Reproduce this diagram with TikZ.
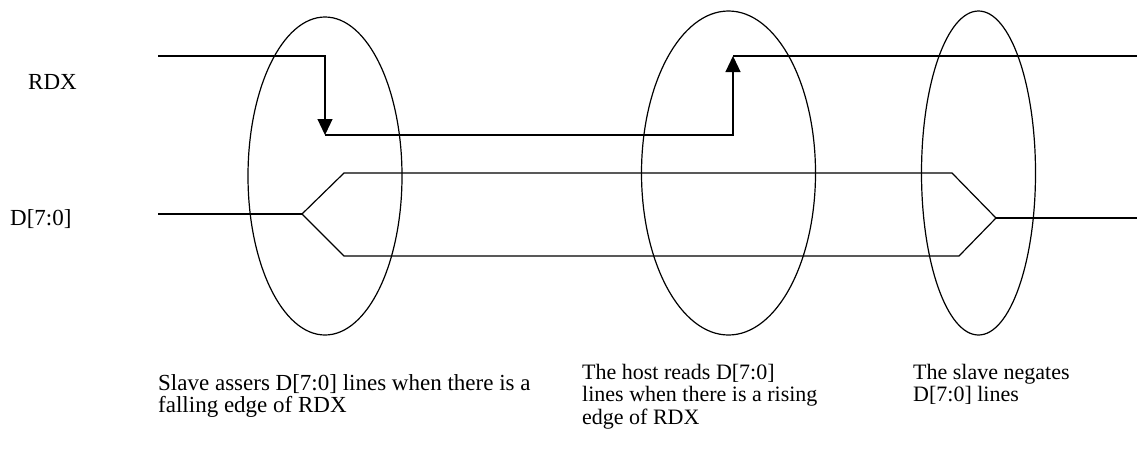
\documentclass[tikz,border=0pt]{standalone}
\usepackage{fontspec}
\setmainfont{Liberation Serif}
\usetikzlibrary{arrows.meta}
\begin{document}
\begin{tikzpicture}[x=1pt,y=-1pt,
  sig/.style={line width=1.2pt,line join=miter},
  tip/.style={-{Triangle[width=15pt,length=16pt]}},
  ring/.style={line width=1.2pt},
  lbl/.style={font=\fontsize{23}{24}\selectfont,inner sep=0pt,anchor=west},
  note/.style={inner sep=0pt,anchor=north west,align=left}]
\useasboundingbox (0,0) rectangle (1137,456);
% RDX signal
\coordinate (r0) at (158,56);
\coordinate (r1) at (325,56);
\coordinate (r2) at (325,135);
\coordinate (r3) at (733,135);
\coordinate (r4) at (733,56);
\coordinate (r5) at (1137,56);
\draw[sig,tip] (r0) -- (r1) -- (r2);
\draw[sig,tip] (r2) -- (r3) -- (r4);
\draw[sig] (r4) -- (r5);
% D bus
\coordinate (d0) at (158,214);
\coordinate (dl) at (302,214);
\coordinate (dtl) at (344,173);
\coordinate (dbl) at (344,256);
\coordinate (dtr) at (952,173);
\coordinate (dbr) at (959,256);
\coordinate (dr) at (996,218);
\coordinate (d1) at (1137,218);
\draw[sig] (d0) -- (dl);
\draw[sig] (dl) -- (dtl) -- (dtr) -- (dr);
\draw[sig] (dl) -- (dbl) -- (dbr) -- (dr);
\draw[sig] (dr) -- (d1);
% ellipses
\draw[ring] (325,176) ellipse [x radius=77, y radius=159];
\draw[ring] (728.5,173) ellipse [x radius=87, y radius=162];
\draw[ring] (978.5,173) ellipse [x radius=57, y radius=162];
% labels
\node[lbl] (lrdx) at (28,82) {RDX};
\node[lbl] (ld) at (10,219) {D[7:0]};
\node[note,font=\fontsize{23}{22.5}\selectfont] (n1) at (158,374) {Slave assers D[7:0] lines when there is a\\falling edge of RDX};
\node[note,font=\fontsize{22}{22.5}\selectfont] (n2) at (582,364) {The host reads D[7:0]\\lines when there is a rising\\edge of RDX};
\node[note,font=\fontsize{22}{22.5}\selectfont] (n3) at (913,364) {The slave negates\\D[7:0] lines};
\end{tikzpicture}
\end{document}
